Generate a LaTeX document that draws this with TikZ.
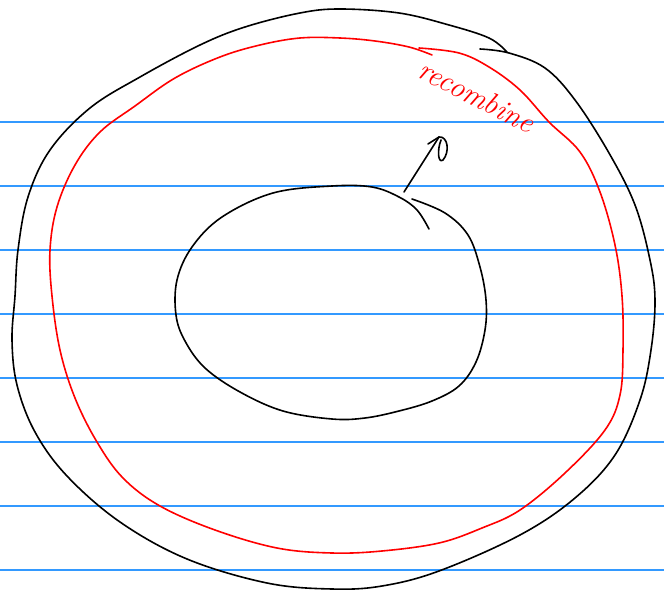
\documentclass[tikz,border=0pt]{standalone}

\definecolor{ruleblue}{RGB}{51,153,255}

\begin{document}
\begin{tikzpicture}[
    x=1pt, y=-1pt,
    rule/.style={ruleblue, line width=1.4pt},
    pen/.style={black, line width=1.6pt, line cap=round, line join=round},
    redpen/.style={red, line width=1.6pt, line cap=round, line join=round}
]
\useasboundingbox (0,0) rectangle (664,591);

% ruled paper
\foreach \y in {122,186,...,570}
  \draw[rule] (0,\y) -- (664,\y);

% outer ring -- one stroke, overlapping at the top right
\draw[pen] plot[smooth, tension=0.6] coordinates {
  (480,49) (509,53) (545,68) (575,100) (609,153) (635,205) (650,260)
  (655,300) (651,350) (640,400) (615,455) (575,498) (520,535) (439,571)
  (382,586) (332,589) (267,583) (187,559) (120,522) (67,476) (35,432)
  (17,385) (12,340) (15,296) (18,250) (28,197) (50,150) (90,108)
  (140,77) (200,45) (245,27) (300,13) (340,9) (399,13) (449,25)
  (489,38) (507,52)};

% red ring
\draw[redpen] plot[smooth, tension=0.6] coordinates {
  (419,48) (459,53) (489,67) (520,90) (549,122) (580,152) (600,192)
  (615,245) (622,296) (623,350) (620,395) (605,430) (565,473) (520,510)
  (482,528) (439,543) (382,551) (332,553) (277,548) (215,530) (160,506)
  (123,478) (97,442) (75,398) (60,350) (52,296) (50,250) (57,207)
  (75,165) (100,132) (135,106) (175,78) (220,57) (260,45) (300,38)
  (340,38) (375,41) (409,47) (432,55)};

% inner ring
\draw[pen] plot[smooth, tension=0.6] coordinates {
  (412,199) (445,213) (468,235) (480,267) (486,300) (485,330) (476,362)
  (459,386) (432,401) (399,411) (365,418) (332,419) (283,411) (240,392)
  (205,368) (185,341) (176,315) (177,280) (192,247) (222,217) (273,193)
  (332,186) (372,187) (399,197) (417,210) (429,229)};

% label and arrow
\node[text=red, rotate=-27, font=\fontsize{30}{30}\selectfont\itshape] (lbl) at (477,96) {recombine};
\coordinate (tail) at (404,192);
\coordinate (tip) at (439,137);
\draw[pen] (tail) -- (tip);
\draw[pen] (tip) -- +(-11,7);
\draw[pen] (tip) .. controls (448,136) and (450,152) .. (443,160)
  .. controls (438,164) and (437,150) .. (441,140);
\end{tikzpicture}
\end{document}
